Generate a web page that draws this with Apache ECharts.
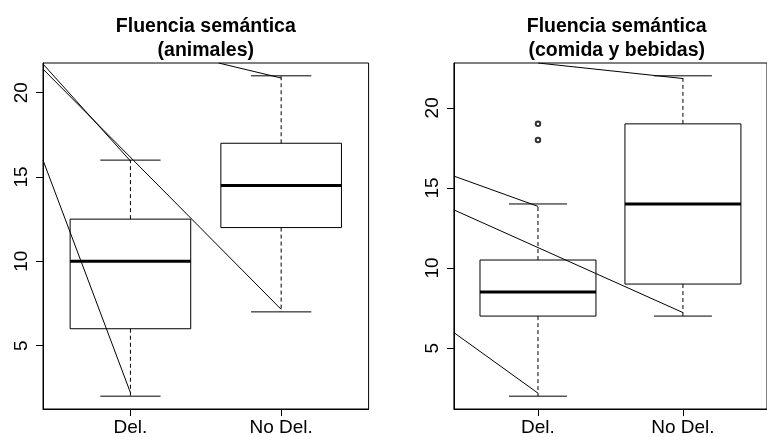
<!DOCTYPE html>
<html>
<head>
<meta charset="utf-8">
<script src="https://cdn.jsdelivr.net/npm/echarts@6/dist/echarts.min.js"></script>
<style>
  html, body { margin: 0; padding: 0; background: #fff; }
  #chart { width: 767px; height: 437px; }
</style>
</head>
<body>
<div id="chart"></div>
<script>
// Group labels on the x axis
const categories = ['Del.', 'No Del.'];
const yTicks = [5, 10, 15, 20];

// Five-number summaries per group: [lower whisker, Q1, median, Q3, upper whisker]
const animalesStats = [
  [2, 6, 10, 12.5, 16],
  [7, 12, 14.5, 17, 21]
];
const animalesOutliers = [];
// Straight segments drawn over the panel: [[x0, y0], [x1, y1]] in data units
const animalesLines = [
  [[0.42, 21.70], [1, 15.95]],
  [[0.42, 21.40], [2, 7.15]],
  [[0.42, 16.00], [1, 2.21]],
  [[1.585, 21.76], [2, 20.87]]
];

const comidaStats = [
  [2, 7, 8.5, 10.5, 14],
  [7, 9, 14, 19, 22]
];
const comidaOutliers = [[1, 18], [1, 19]];
const comidaLines = [
  [[0.42, 15.74], [1, 13.85]],
  [[0.42, 13.63], [2, 7.22]],
  [[0.42, 5.97], [1, 2.19]],
  [[1.0, 22.8], [2, 21.83]]
];

const FONT = '"Liberation Sans", Arial, Helvetica, sans-serif';

// R-style axis extent: data range padded by 4% on each side
function extent(stats, outliers) {
  const vals = [];
  stats.forEach(s => { vals.push(s[0], s[4]); });
  outliers.forEach(o => vals.push(o[1]));
  const lo = Math.min(...vals), hi = Math.max(...vals);
  const pad = (hi - lo) * 0.04;
  return [lo - pad, hi + pad];
}
const xPad = categories.length * 0.04;
const xMin = 0.5 - xPad, xMax = categories.length + 0.5 + xPad;

function renderBox(params, api) {
  const x = api.value(0);
  const lo = api.value(1), q1 = api.value(2), med = api.value(3), q3 = api.value(4), hi = api.value(5);
  const p = (xx, yy) => api.coord([xx, yy]);
  const thin = { stroke: '#000', lineWidth: 1, fill: null };
  const dashed = { stroke: '#000', lineWidth: 1, lineDash: [4, 3], fill: null };
  const seg = (a, b, style) => ({
    type: 'line',
    shape: { x1: a[0], y1: a[1], x2: b[0], y2: b[1] },
    style: style
  });
  const bw = 0.4, sw = 0.2;
  return {
    type: 'group',
    children: [
      seg(p(x, q3), p(x, hi), dashed),
      seg(p(x, q1), p(x, lo), dashed),
      seg(p(x - sw, hi), p(x + sw, hi), thin),
      seg(p(x - sw, lo), p(x + sw, lo), thin),
      {
        type: 'polygon',
        shape: { points: [p(x - bw, q1), p(x + bw, q1), p(x + bw, q3), p(x - bw, q3)] },
        style: { stroke: '#000', lineWidth: 1, fill: null }
      },
      seg(p(x - bw, med), p(x + bw, med), { stroke: '#000', lineWidth: 3, fill: null })
    ]
  };
}

const gridTop = 63, gridHeight = 347, gridWidth = 325.6;
const grids = [
  { left: 43, top: gridTop, width: gridWidth, height: gridHeight },
  { left: 453.9, top: gridTop, width: gridWidth, height: gridHeight }
].map(g => Object.assign(g, {
  show: true, borderColor: '#000', borderWidth: 1, backgroundColor: 'transparent', containLabel: false
}));

const panels = [
  { title: 'Fluencia semántica\n(animales)', stats: animalesStats, outliers: animalesOutliers, lines: animalesLines },
  { title: 'Fluencia semántica\n(comida y bebidas)', stats: comidaStats, outliers: comidaOutliers, lines: comidaLines }
];

const xAxes = [], yAxes = [], series = [], titles = [];
panels.forEach((pn, i) => {
  const ext = extent(pn.stats, pn.outliers);
  const g = grids[i];
  titles.push({
    text: pn.title,
    left: g.left + g.width / 2,
    top: 15,
    textAlign: 'center',
    padding: 0,
    textStyle: { fontFamily: FONT, fontSize: 19.5, fontWeight: 'bold', color: '#000', lineHeight: 23.5 }
  });
  xAxes.push({
    type: 'value', gridIndex: i, min: xMin, max: xMax,
    axisLine: { show: true, lineStyle: { color: '#000', width: 1 } },
    axisTick: { show: true, length: 7, customValues: [1, 2], lineStyle: { color: '#000' } },
    axisLabel: {
      show: true, customValues: [1, 2], margin: 9,
      formatter: v => categories[Math.round(v) - 1] || '',
      fontFamily: FONT, fontSize: 19, color: '#000'
    },
    splitLine: { show: false }
  });
  yAxes.push({
    type: 'value', gridIndex: i, min: ext[0], max: ext[1],
    axisLine: { show: true, lineStyle: { color: '#000', width: 1 } },
    axisTick: { show: true, length: 7, customValues: yTicks, lineStyle: { color: '#000' } },
    axisLabel: {
      show: true, customValues: yTicks, rotate: 90, margin: 12,
      fontFamily: FONT, fontSize: 19, color: '#000'
    },
    splitLine: { show: false }
  });
  series.push({
    type: 'custom', xAxisIndex: i, yAxisIndex: i,
    renderItem: renderBox,
    encode: { x: 0, y: [1, 2, 3, 4, 5] },
    data: pn.stats.map((s, k) => [k + 1].concat(s)),
    silent: true
  });
  if (pn.outliers.length) {
    series.push({
      type: 'scatter', xAxisIndex: i, yAxisIndex: i,
      data: pn.outliers,
      symbol: 'emptyCircle', symbolSize: 4.5,
      itemStyle: { color: '#000', borderColor: '#000', borderWidth: 0.8 },
      silent: true
    });
  }
  pn.lines.forEach(seg => {
    series.push({
      type: 'line', xAxisIndex: i, yAxisIndex: i,
      data: seg, symbol: 'none', clip: true,
      lineStyle: { color: '#000', width: 1 },
      silent: true
    });
  });
});

const chart = echarts.init(document.getElementById('chart'), null, { renderer: 'canvas' });
chart.setOption({
  animation: false,
  backgroundColor: '#fff',
  title: titles,
  grid: grids,
  xAxis: xAxes,
  yAxis: yAxes,
  series: series
});
</script>
</body>
</html>
